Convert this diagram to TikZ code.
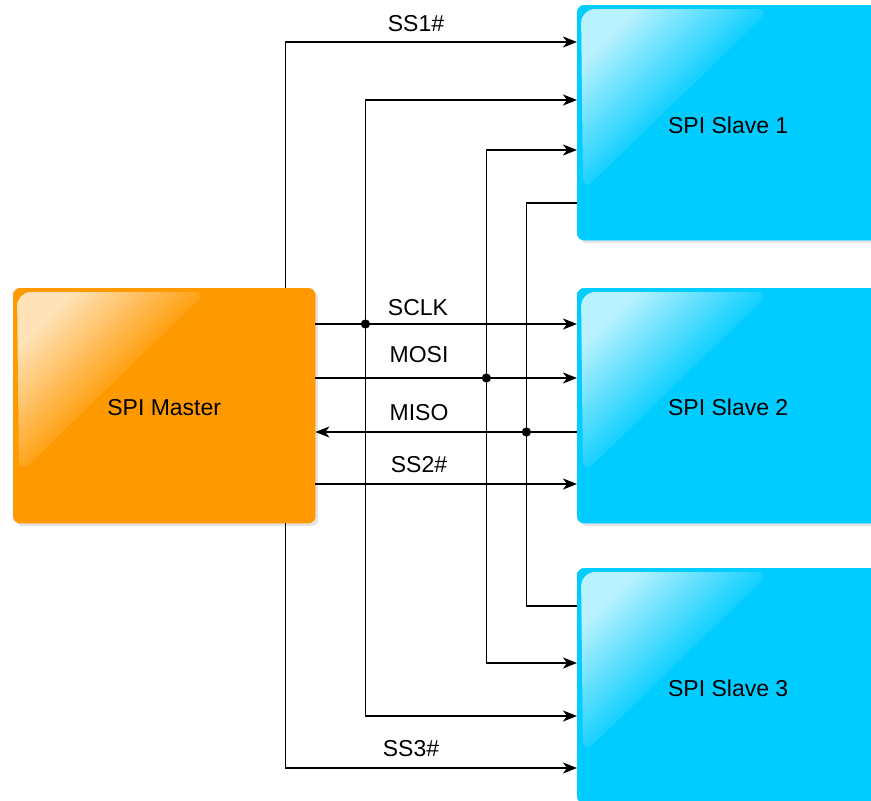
\documentclass[tikz,border=0pt]{standalone}
\usepackage{fontspec}
\setmainfont{Liberation Sans}
\usepackage{xcolor}
\usetikzlibrary{calc,arrows.meta,shadows}
\definecolor{masterorange}{RGB}{255,153,0}
\definecolor{slaveblue}{RGB}{0,204,255}
% glossy highlight in the upper left corner of a box
\newcommand{\glossbox}[2]{%
  \shade[rounded corners=14pt, top color=white!72!#2, bottom color=#2, middle color=#2!92!white, shading angle=45]
    ($(#1.north west)+(4,4)$) -- ($(#1.north west)+(194,4)$) -- ($(#1.north west)+(6,186)$) -- cycle;
}
\begin{document}
\begin{tikzpicture}[x=1pt, y=-1pt, font=\fontsize{23}{27}\selectfont, >={Stealth[length=14pt,width=11pt,inset=4pt]},
  unit/.style={draw=#1, fill=#1, rounded corners=7pt, minimum width=302pt, minimum height=235pt, anchor=north west,
    drop shadow={shadow xshift=3pt, shadow yshift=-3pt, opacity=0.22}},
  sig/.style={line width=1.8pt},
  dot/.style={fill=black}]
\clip (0,0) rectangle (871,801);
\node[unit=masterorange] (master) at (13,288) {};
\node[unit=slaveblue] (slave1) at (577,5) {};
\node[unit=slaveblue] (slave2) at (577,288) {};
\node[unit=slaveblue] (slave3) at (577,568) {};
\glossbox{master}{masterorange}
\glossbox{slave1}{slaveblue}
\glossbox{slave2}{slaveblue}
\glossbox{slave3}{slaveblue}
\node at ($(master.center)+(0,2)$) {SPI Master};
\node at ($(slave1.center)+(0,3)$) {SPI Slave 1};
\node at ($(slave2.center)+(0,2)$) {SPI Slave 2};
\node at ($(slave3.center)+(0,3)$) {SPI Slave 3};
% ports
\coordinate (mss1) at ($(master.north east)+(-30,0)$);
\coordinate (mss3) at ($(master.south east)+(-30,0)$);
\coordinate (mclk) at ($(master.north east)+(0,36)$);
\coordinate (mmosi) at ($(master.north east)+(0,90)$);
\coordinate (mmiso) at ($(master.north east)+(0,144)$);
\coordinate (mss2) at ($(master.north east)+(0,196)$);
\coordinate (s1ss) at ($(slave1.north west)+(0,37)$);
\coordinate (s1clk) at ($(slave1.north west)+(0,95)$);
\coordinate (s1mosi) at ($(slave1.north west)+(0,145)$);
\coordinate (s1miso) at ($(slave1.north west)+(0,198)$);
\coordinate (s3miso) at ($(slave3.north west)+(0,38)$);
\coordinate (s3mosi) at ($(slave3.north west)+(0,95)$);
\coordinate (s3clk) at ($(slave3.north west)+(0,148)$);
\coordinate (s3ss) at ($(slave3.north west)+(0,200)$);
% junctions
\coordinate (jclk) at ($(mclk)+(50,0)$);
\coordinate (jmosi) at ($(mmosi)+(171,0)$);
\coordinate (jmiso) at ($(mmiso)+(211,0)$);
% signals
\draw[sig,->] (mss1) |- (s1ss);
\draw[sig,->] (mss3) |- (s3ss);
\draw[sig,->] (mclk) -- (mclk -| slave2.west);
\draw[sig,->] (mmosi) -- (mmosi -| slave2.west);
\draw[sig,<-] (mmiso) -- (mmiso -| slave2.west);
\draw[sig,->] (mss2) -- (mss2 -| slave2.west);
\draw[sig,->] (jclk) |- (s1clk);
\draw[sig,->] (jclk) |- (s3clk);
\draw[sig,->] (jmosi) |- (s1mosi);
\draw[sig,->] (jmosi) |- (s3mosi);
\draw[sig] (s1miso) -| (jmiso);
\draw[sig] (s3miso) -| (jmiso);
\fill[dot] (jclk) circle (4.6pt);
\fill[dot] (jmosi) circle (4.6pt);
\fill[dot] (jmiso) circle (4.6pt);
% labels
\node (lss1) at (416,24) {SS1\#};
\node (lclk) at (418,308) {SCLK};
\node (lmosi) at (419,355) {MOSI};
\node (lmiso) at (419,413) {MISO};
\node (lss2) at (419,465) {SS2\#};
\node (lss3) at (411,749) {SS3\#};
\end{tikzpicture}
\end{document}
